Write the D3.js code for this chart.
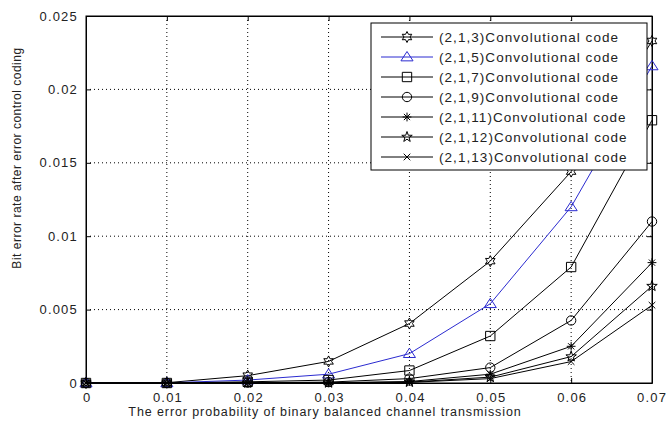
<!DOCTYPE html>
<html>
<head>
<meta charset="utf-8">
<script src="https://cdn.jsdelivr.net/npm/d3@7"></script>
<style>
  body { margin: 0; background: #fff; }
  svg { display: block; font-family: "Liberation Sans", Arial, sans-serif; }
</style>
</head>
<body>
<svg id="chart" width="666" height="423"></svg>
<script>
const xValues = [0, 0.01, 0.02, 0.03, 0.04, 0.05, 0.06, 0.07];
const xTicks = [0, 0.01, 0.02, 0.03, 0.04, 0.05, 0.06, 0.07];
const yTicks = [0, 0.005, 0.01, 0.015, 0.02, 0.025];

const seriesNames = [
    "(2,1,3)Convolutional code",
    "(2,1,5)Convolutional code",
    "(2,1,7)Convolutional code",
    "(2,1,9)Convolutional code",
    "(2,1,11)Convolutional code",
    "(2,1,12)Convolutional code",
    "(2,1,13)Convolutional code"
];
const code3 = [0, 0.00002, 0.0005, 0.00147, 0.00405, 0.0083, 0.0144, 0.0233];
const code5 = [0, 0.00001, 0.0002, 0.0006, 0.0020, 0.0054, 0.0120, 0.0216];
const code7 = [0, 0, 0.00008, 0.0002, 0.00085, 0.0032, 0.0079, 0.0179];
const code9 = [0, 0, 0.00002, 0.00006, 0.0003, 0.00105, 0.00426, 0.0110];
const code11 = [0, 0, 0, 0.00002, 0.0001, 0.0006, 0.0025, 0.0082];
const code12 = [0, 0, 0, 0.00001, 0.00006, 0.0004, 0.0018, 0.0066];
const code13 = [0, 0, 0, 0, 0.00004, 0.0003, 0.00146, 0.0053];

const seriesValues = [code3, code5, code7, code9, code11, code12, code13];
const seriesMarkers = ["hexagram", "triangle", "square", "circle", "asterisk", "pentagram", "x"];
const seriesColors = ["#000", "#2b2bd0", "#000", "#000", "#000", "#000", "#000"];

const svg = d3.select("#chart");
const plotL = 86, plotR = 652, plotT = 16, plotB = 383;

const x = d3.scaleLinear().domain([0, 0.07]).range([plotL, plotR]);
const y = d3.scaleLinear().domain([0, 0.025]).range([plotB, plotT]);

// marker paths, centered at 0,0
function markerPath(type, r) {
    const p = d3.path();
    if (type === "triangle") {
        p.moveTo(0, -r); p.lineTo(r * 1.1, r * 0.7); p.lineTo(-r * 1.1, r * 0.7); p.closePath();
    } else if (type === "square") {
        p.rect(-r * 0.85, -r * 0.85, r * 1.7, r * 1.7);
    } else if (type === "circle") {
        p.moveTo(r * 0.85, 0); p.arc(0, 0, r * 0.85, 0, 2 * Math.PI);
    } else if (type === "asterisk") {
        for (let i = 0; i < 4; i++) {
            const a = i * Math.PI / 4;
            p.moveTo(-Math.cos(a) * r * 0.8, -Math.sin(a) * r * 0.8);
            p.lineTo(Math.cos(a) * r * 0.8, Math.sin(a) * r * 0.8);
        }
    } else if (type === "x") {
        const s = r * 0.6;
        p.moveTo(-s, -s); p.lineTo(s, s); p.moveTo(-s, s); p.lineTo(s, -s);
    } else if (type === "pentagram" || type === "hexagram") {
        const n = type === "pentagram" ? 5 : 6;
        const inner = type === "pentagram" ? 0.4 : 0.55;
        for (let i = 0; i < n * 2; i++) {
            const a = -Math.PI / 2 + i * Math.PI / n;
            const rr = i % 2 === 0 ? r : r * inner;
            if (i === 0) p.moveTo(Math.cos(a) * rr, Math.sin(a) * rr);
            else p.lineTo(Math.cos(a) * rr, Math.sin(a) * rr);
        }
        p.closePath();
    }
    return p.toString();
}

// grid
const gridX = xTicks.filter(d => d > 0 && d < 0.07);
const gridY = yTicks.filter(d => d > 0 && d < 0.025);
svg.append("g").selectAll("line").data(gridX).enter().append("line")
    .attr("x1", d => x(d)).attr("x2", d => x(d))
    .attr("y1", plotT).attr("y2", plotB)
    .attr("stroke", "#000").attr("stroke-width", 1).attr("stroke-dasharray", "1,3");
svg.append("g").selectAll("line").data(gridY).enter().append("line")
    .attr("x1", plotL).attr("x2", plotR)
    .attr("y1", d => y(d)).attr("y2", d => y(d))
    .attr("stroke", "#000").attr("stroke-width", 1).attr("stroke-dasharray", "1,3");

// axes (ticks inward, box)
const xAxisG = svg.append("g").attr("transform", `translate(0,${plotB})`)
    .call(d3.axisBottom(x).tickValues(xTicks).tickSizeInner(-5).tickSizeOuter(0).tickPadding(10)
        .tickFormat(d => d === 0 ? "0" : String(+d.toFixed(2))));
svg.append("g").attr("transform", `translate(${plotL},0)`)
    .call(d3.axisLeft(y).tickValues(yTicks).tickSizeInner(-5).tickSizeOuter(0).tickPadding(8)
        .tickFormat(d => d === 0 ? "0" : String(+d.toFixed(3))));
svg.append("g").attr("transform", `translate(0,${plotT})`)
    .call(d3.axisTop(x).tickValues(xTicks).tickSizeInner(-5).tickSizeOuter(0).tickFormat(""));
svg.append("g").attr("transform", `translate(${plotR},0)`)
    .call(d3.axisRight(y).tickValues(yTicks).tickSizeInner(-5).tickSizeOuter(0).tickFormat(""));
svg.selectAll(".domain").attr("stroke", "#000");
svg.selectAll(".tick line").attr("stroke", "#000");
svg.selectAll(".tick text").attr("font-size", 13).attr("fill", "#222")
    .attr("letter-spacing", "1.2px")
    .attr("font-family", "'Liberation Sans', Arial, sans-serif");
// re-center x labels (letter-spacing adds trailing space)
xAxisG.selectAll(".tick text").attr("dx", 0.6)
    .attr("text-anchor", d => d === 0.07 ? "end" : "middle")
    .attr("x", d => d === 0.07 ? 14 : 0);
svg.append("rect").attr("x", plotL).attr("y", plotT).attr("width", plotR - plotL).attr("height", plotB - plotT)
    .attr("fill", "none").attr("stroke", "#000");

// series
const line = d3.line().x((d, i) => x(xValues[i])).y(d => y(d));
seriesValues.forEach((vals, k) => {
    const g = svg.append("g");
    g.append("path").datum(vals).attr("d", line)
        .attr("fill", "none").attr("stroke", seriesColors[k]).attr("stroke-width", 1);
    g.selectAll("path.m").data(vals).enter().append("path").attr("class", "m")
        .attr("transform", (d, i) => `translate(${x(xValues[i])},${y(d)})`)
        .attr("d", markerPath(seriesMarkers[k], 5.5))
        .attr("fill", "none").attr("stroke", seriesColors[k]).attr("stroke-width", 1);
});

// axis labels
svg.append("text").attr("x", 325).attr("y", 416).attr("text-anchor", "middle")
    .attr("font-size", 12.5).attr("fill", "#222").attr("letter-spacing", "0.9px")
    .text("The error probability of binary balanced channel transmission");
svg.append("text").attr("transform", "translate(21,158) rotate(-90)").attr("text-anchor", "middle")
    .attr("font-size", 12).attr("fill", "#222").attr("letter-spacing", "0.5px")
    .text("Bit error rate after error control coding");

// legend
const legend = svg.append("g").attr("transform", "translate(371,23)");
legend.append("rect").attr("width", 276).attr("height", 147)
    .attr("fill", "#fff").attr("stroke", "#000");
seriesNames.forEach((name, k) => {
    const ly = 14 + k * 20;
    legend.append("line").attr("x1", 10).attr("x2", 62).attr("y1", ly).attr("y2", ly)
        .attr("stroke", seriesColors[k]).attr("stroke-width", 1);
    legend.append("path").attr("transform", `translate(36,${ly})`)
        .attr("d", markerPath(seriesMarkers[k], 5.5))
        .attr("fill", "none").attr("stroke", seriesColors[k]);
    legend.append("text").attr("x", 68).attr("y", ly + 5).attr("font-size", 13.5).attr("fill", "#222")
        .attr("letter-spacing", "1.05px")
        .text(name);
});
</script>
</body>
</html>
